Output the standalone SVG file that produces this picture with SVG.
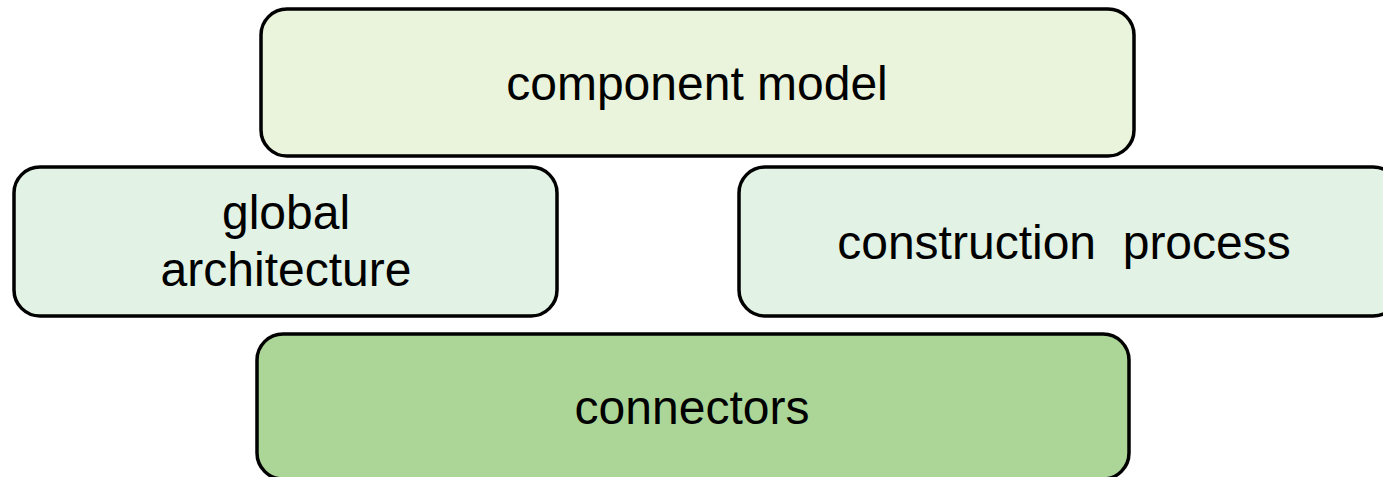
<svg xmlns="http://www.w3.org/2000/svg" width="1383" height="477" viewBox="0 0 1383 477">
  <style>
    .box { stroke: #000; stroke-width: 3.5; }
    .label { font-family: "Liberation Sans", Arial, sans-serif; font-size: 48px; fill: #000; text-anchor: middle; }
  </style>
  <rect width="1383" height="477" fill="#fff"/>
  <g id="component-model">
    <rect class="box" x="261" y="9" width="873" height="147" rx="26" fill="#eaf4dc"/>
    <text class="label" x="697" y="100">component model</text>
  </g>
  <g id="global-architecture">
    <rect class="box" x="14" y="167" width="543" height="149" rx="26" fill="#e2f2e4"/>
    <text class="label" x="286" y="229">global</text>
    <text class="label" x="286" y="286">architecture</text>
  </g>
  <g id="construction-process">
    <rect class="box" x="739" y="167" width="660" height="149" rx="26" fill="#e2f2e4"/>
    <text class="label" x="1064" y="259" xml:space="preserve">construction  process</text>
  </g>
  <g id="connectors">
    <rect class="box" x="257" y="334" width="872" height="145" rx="26" fill="#acd698"/>
    <text class="label" x="692" y="424">connectors</text>
  </g>
  <g id="connectors-layer"></g>
</svg>
